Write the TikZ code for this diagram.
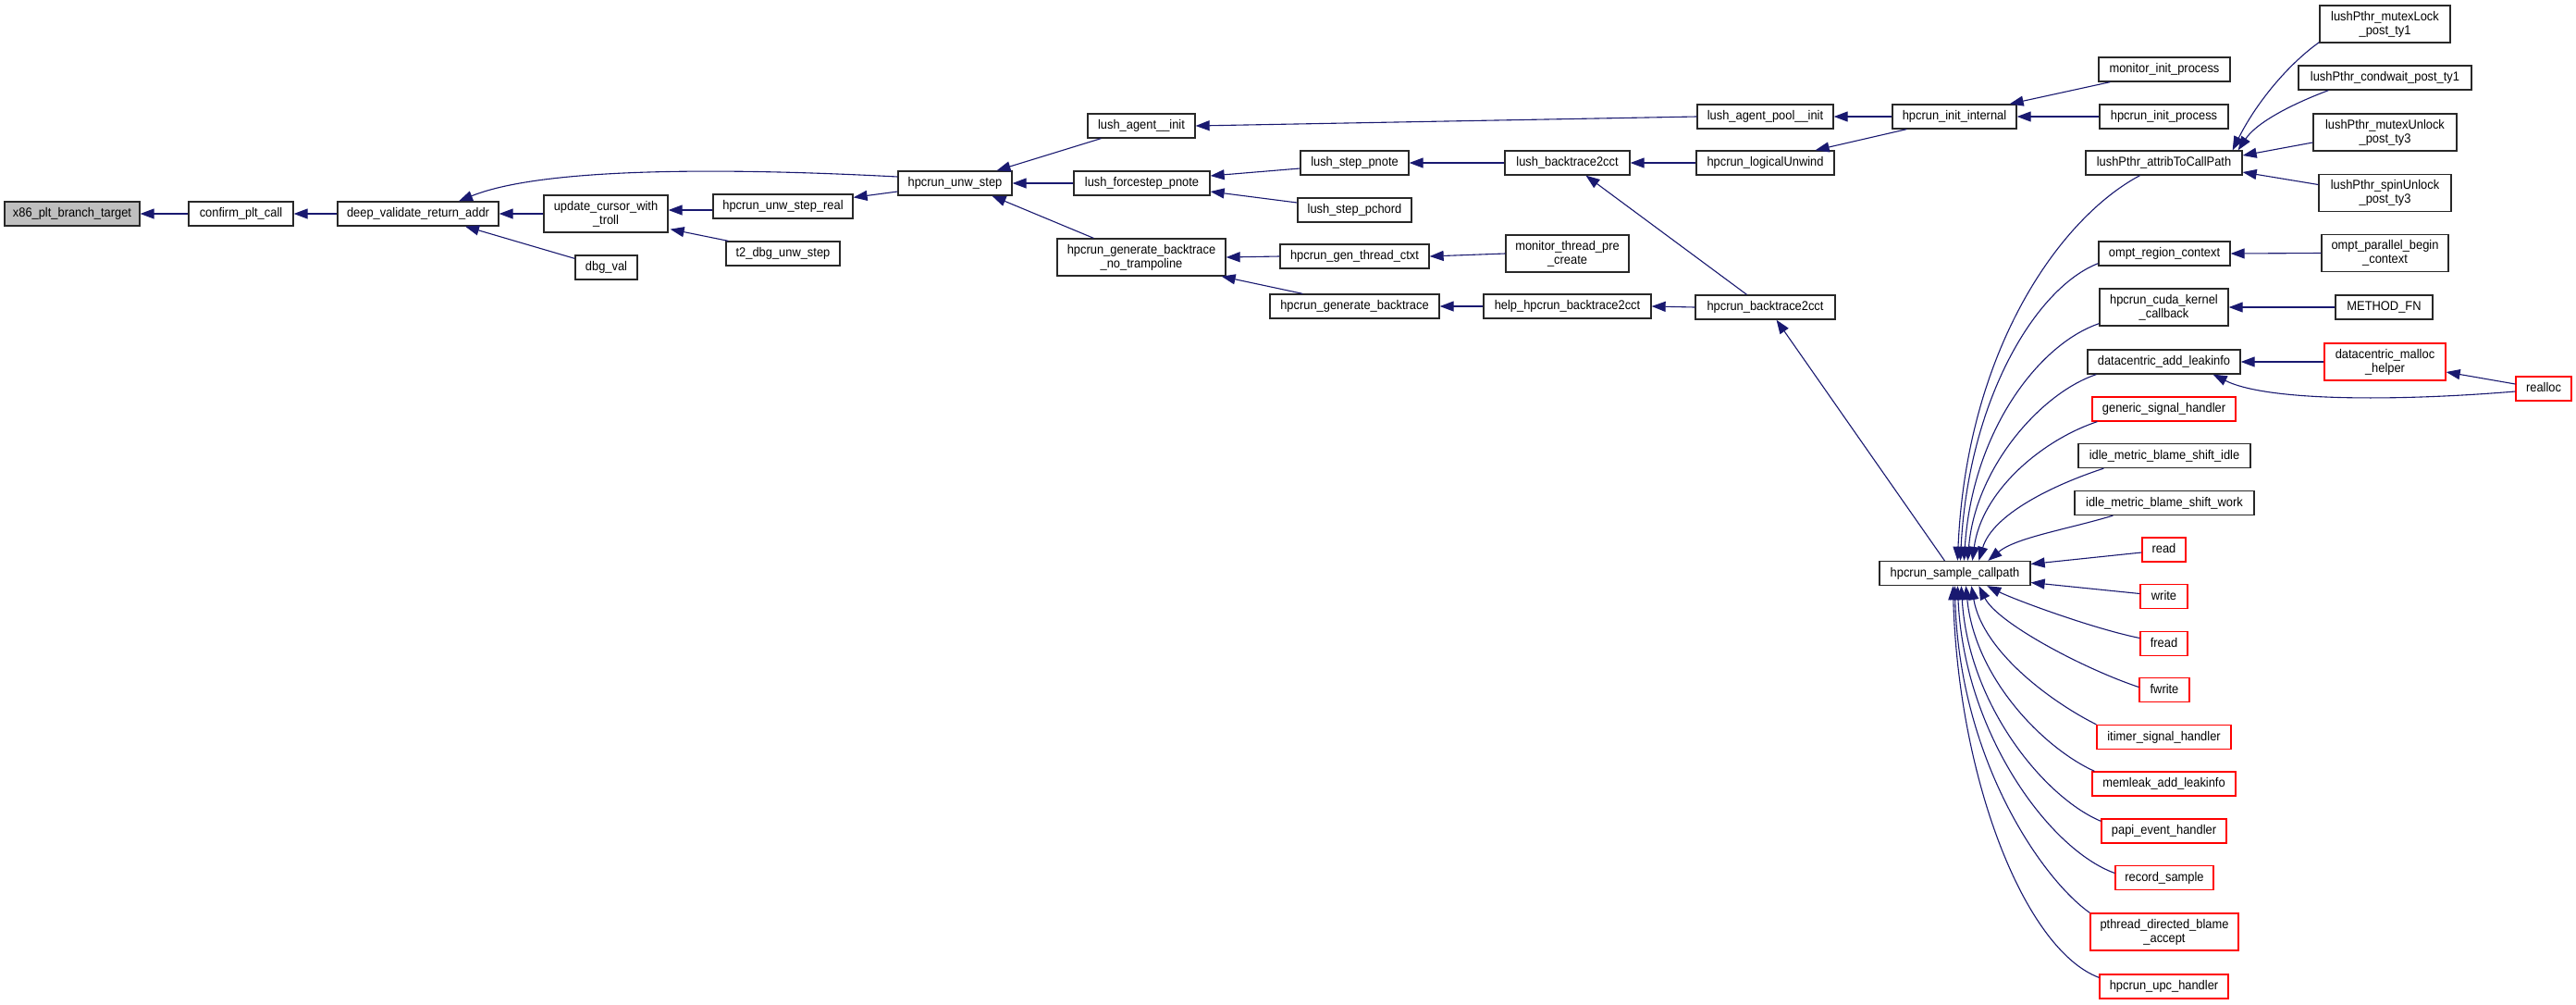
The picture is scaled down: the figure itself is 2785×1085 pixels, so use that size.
\documentclass[tikz,border=0pt]{standalone}
\usepackage{fontspec}
\newfontfamily\fnfont{Liberation Sans}[FakeStretch=0.92]
\usetikzlibrary{arrows.meta,calc}
\definecolor{edgec}{RGB}{25,25,112}
\definecolor{boxc}{RGB}{40,40,40}
\definecolor{redc}{RGB}{255,0,0}
\definecolor{grayfill}{RGB}{191,191,191}
\begin{document}
\begin{tikzpicture}[x=1pt,y=-1pt,
  fn/.style={draw=boxc, line width=1.3pt, fill=white, inner sep=0pt,
    font=\fnfont\fontsize{14}{15}\selectfont, align=center, minimum height=26pt},
  l1/.style={text height=10pt, text depth=3pt},
  l2/.style={minimum height=40pt},
  w/.style={minimum width=#1pt},
  redbox/.style={draw=redc},
  cn/.style={draw=edgec, line width=1.1pt, arrows={Triangle[length=15pt,width=11pt]-}}]
\fill[white] (0,0) rectangle (2785,1085);
\useasboundingbox (0,0) rectangle (2785,1085);

\node[fn,l1,w=146,fill=grayfill] (x86) at (78,231) {x86\_plt\_branch\_target};
\node[fn,l1,w=113] (cpc) at (260.5,231) {confirm\_plt\_call};
\node[fn,l1,w=174] (dvr) at (452,231) {deep\_validate\_return\_addr};
\node[fn,l2,w=134] (uct) at (655,231) {update\_cursor\_with\\\_troll};
\node[fn,l1,w=67] (dbg) at (655.5,289) {dbg\_val};
\node[fn,l1,w=151] (usr) at (846.5,223) {hpcrun\_unw\_step\_real};
\node[fn,l1,w=123] (t2d) at (846.5,274) {t2\_dbg\_unw\_step};
\node[fn,l1,w=123] (hus) at (1032.5,198) {hpcrun\_unw\_step};
\node[fn,l1,w=116] (lai) at (1234,136) {lush\_agent\_\_init};
\node[fn,l1,w=147] (lfp) at (1234.5,198) {lush\_forcestep\_pnote};
\node[fn,l2,w=182] (gbn) at (1234,278) {hpcrun\_generate\_backtrace\\\_no\_trampoline};
\node[fn,l1,w=117] (lsp) at (1464.5,176) {lush\_step\_pnote};
\node[fn,l1,w=123] (lsc) at (1464.5,227) {lush\_step\_pchord};
\node[fn,l1,w=161] (gtc) at (1464.5,277) {hpcrun\_gen\_thread\_ctxt};
\node[fn,l1,w=183] (gbt) at (1464.5,331) {hpcrun\_generate\_backtrace};
\node[fn,l1,w=135] (lbc) at (1694.5,176) {lush\_backtrace2cct};
\node[fn,l2,w=133] (mtp) at (1694.5,274) {monitor\_thread\_pre\\\_create};
\node[fn,l1,w=181] (hbc) at (1694.5,331) {help\_hpcrun\_backtrace2cct};
\node[fn,l1,w=147] (lap) at (1908.5,126) {lush\_agent\_pool\_\_init};
\node[fn,l1,w=149] (hlu) at (1908.5,176) {hpcrun\_logicalUnwind};
\node[fn,l1,w=151] (hbt) at (1908.5,332) {hpcrun\_backtrace2cct};
\node[fn,l1,w=134] (hii) at (2113,126) {hpcrun\_init\_internal};
\node[fn,l1,w=163] (hsc) at (2113.5,619.5) {hpcrun\_sample\_callpath};
\node[fn,l1,w=142] (mip) at (2340,75) {monitor\_init\_process};
\node[fn,l1,w=139] (hip) at (2339.5,126) {hpcrun\_init\_process};
\node[fn,l1,w=169] (lpa) at (2339.5,176) {lushPthr\_attribToCallPath};
\node[fn,l1,w=142] (orc) at (2340,274) {ompt\_region\_context};
\node[fn,l2,w=139] (cuda) at (2339.5,332) {hpcrun\_cuda\_kernel\\\_callback};
\node[fn,l1,w=165] (dal) at (2339.5,391) {datacentric\_add\_leakinfo};
\node[fn,l1,w=155,redbox] (gsh) at (2339.5,442) {generic\_signal\_handler};
\node[fn,l1,w=186] (mbi) at (2340,492.5) {idle\_metric\_blame\_shift\_idle};
\node[fn,l1,w=194] (mbw) at (2340,543.5) {idle\_metric\_blame\_shift\_work};
\node[fn,l1,w=47,redbox] (rd) at (2339.5,594) {read};
\node[fn,l1,w=51,redbox] (wr) at (2339.5,644.5) {write};
\node[fn,l1,w=51,redbox] (frd) at (2339.5,695.5) {fread};
\node[fn,l1,w=54,redbox] (fwr) at (2340,745.5) {fwrite};
\node[fn,l1,w=145,redbox] (its) at (2339.5,796.5) {itimer\_signal\_handler};
\node[fn,l1,w=155,redbox] (mal) at (2339.5,847) {memleak\_add\_leakinfo};
\node[fn,l1,w=135,redbox] (peh) at (2339.5,898) {papi\_event\_handler};
\node[fn,l1,w=106,redbox] (rcs) at (2340,948.5) {record\_sample};
\node[fn,l2,w=160,redbox] (pdb) at (2340,1007) {pthread\_directed\_blame\\\_accept};
\node[fn,l1,w=139,redbox] (upc) at (2339.5,1066) {hpcrun\_upc\_handler};
\node[fn,l2,w=141] (mlk) at (2578.5,26) {lushPthr\_mutexLock\\\_post\_ty1};
\node[fn,l1,w=187] (cwt) at (2578.5,84) {lushPthr\_condwait\_post\_ty1};
\node[fn,l2,w=155] (mul) at (2578.5,143) {lushPthr\_mutexUnlock\\\_post\_ty3};
\node[fn,l2,w=143] (spu) at (2578.5,208.5) {lushPthr\_spinUnlock\\\_post\_ty3};
\node[fn,l2,w=137] (opb) at (2578.5,273.5) {ompt\_parallel\_begin\\\_context};
\node[fn,l1,w=105] (mfn) at (2577.5,332) {METHOD\_FN};
\node[fn,l2,w=131,redbox] (dmh) at (2578.5,391) {datacentric\_malloc\\\_helper};
\node[fn,l1,w=60,redbox] (rea) at (2750,420) {realloc};

\draw[cn] (x86.east) -- (cpc.west);
\draw[cn] (cpc.east) -- (dvr.west);
\draw[cn] (dvr.east) -- (uct.west);
\draw[cn] ($(dvr.south)+(51,0)$) -- ($(dbg.north west)+(0,4)$);
\draw[cn] ($(dvr.north)+(44,0)$) .. controls +(94,-38) and +(-171,-9) .. ($(hus.west)+(0,-7)$);
\draw[cn] ($(uct.east)+(0,-4)$) -- ($(usr.west)+(0,4)$);
\draw[cn] ($(uct.south east)+(2,-4)$) -- ($(t2d.north west)+(3,0)$);
\draw[cn] ($(usr.north east)+(0,4)$) -- ($(hus.west)+(0,9)$);
\draw[cn] ($(hus.north)+(45,0)$) -- ($(lai.south west)+(15,0)$);
\draw[cn] (hus.east) -- (lfp.west);
\draw[cn] ($(hus.south)+(40,0)$) -- ($(gbn.north west)+(40,0)$);
\draw[cn] (lai.east) -- (lap.west);
\draw[cn] ($(lfp.east)+(0,-8)$) -- ($(lsp.west)+(0,6)$);
\draw[cn] ($(lfp.east)+(0,9)$) -- ($(lsc.west)+(0,-8)$);
\draw[cn] (gbn.east) -- (gtc.west);
\draw[cn] ($(gbn.south east)+(-5,0)$) -- ($(gbt.north west)+(36,0)$);
\draw[cn] (lsp.east) -- (lbc.west);
\draw[cn] (gtc.east) -- (mtp.west);
\draw[cn] (gbt.east) -- (hbc.west);
\draw[cn] (lbc.east) -- (hlu.west);
\draw[cn] ($(lbc.south)+(20,0)$) -- ($(hbt.north)+(-20,0)$);
\draw[cn] (hbc.east) -- (hbt.west);
\draw[cn] (lap.east) -- (hii.west);
\draw[cn] ($(hlu.north east)+(-21,0)$) -- ($(hii.south west)+(16,0)$);
\draw[cn] ($(hii.north east)+(-8,0)$) -- ($(mip.south west)+(13,0)$);
\draw[cn] (hii.east) -- (hip.west);
\draw[cn] ($(hbt.south)+(12,0)$) -- ($(hsc.north west)+(71,0)$);

\draw[cn] ($(hsc.north west)+(85,0)$) .. controls +(10,-230) and +(-85,45) .. ($(lpa.south)+(-26,0)$);
\draw[cn] ($(hsc.north west)+(88,0)$) .. controls +(9,-175) and +(-67,26) .. ($(orc.south west)+(0,-3)$);
\draw[cn] ($(hsc.north west)+(92,0)$) .. controls +(9,-140) and +(-65,22) .. ($(cuda.south west)+(0,-3)$);
\draw[cn] ($(hsc.north west)+(96,0)$) .. controls +(8,-100) and +(-60,20) .. ($(dal.south west)+(10,0)$);
\draw[cn] ($(hsc.north west)+(101,0)$) .. controls +(10,-75) and +(-60,20) .. ($(gsh.south west)+(6,0)$);
\draw[cn] ($(hsc.north west)+(108,0)$) .. controls +(15,-50) and +(-55,18) .. ($(mbi.south west)+(28,0)$);
\draw[cn] ($(hsc.north west)+(118,0)$) .. controls +(30,-25) and +(-50,15) .. ($(mbw.south west)+(42,0)$);
\draw[cn] ($(hsc.east)+(0,-10)$) -- ($(rd.west)+(0,3)$);
\draw[cn] ($(hsc.east)+(0,10)$) -- ($(wr.west)+(0,-3)$);

\draw[cn] ($(hsc.south west)+(117,0)$) .. controls +(30,15) and +(-50,-10) .. ($(frd.west)+(0,-6)$);
\draw[cn] ($(hsc.south west)+(108,0)$) .. controls +(20,40) and +(-60,-20) .. ($(fwr.west)+(0,-3)$);
\draw[cn] ($(hsc.south west)+(100,0)$) .. controls +(12,70) and +(-50,-25) .. (its.north west);
\draw[cn] ($(hsc.south west)+(94,0)$) .. controls +(10,100) and +(-55,-25) .. ($(mal.north west)+(3,0)$);
\draw[cn] ($(hsc.south west)+(89,0)$) .. controls +(8,130) and +(-60,-25) .. ($(peh.north west)+(0,3)$);
\draw[cn] ($(hsc.south west)+(85,0)$) .. controls +(7,160) and +(-70,-25) .. ($(rcs.west)+(0,-5)$);
\draw[cn] ($(hsc.south west)+(82,0)$) .. controls +(5,190) and +(-50,-35) .. (pdb.north west);
\draw[cn] ($(hsc.south west)+(80,0)$) .. controls +(6,210) and +(-80,-30) .. ($(upc.north west)+(0,4)$);

\draw[cn] ($(lpa.north east)+(-11,0)$) .. controls +(25,-50) and +(-35,25) .. ($(mlk.south west)+(0,-1)$);
\draw[cn] ($(lpa.north east)+(-5,0)$) .. controls +(20,-30) and +(-40,15) .. ($(cwt.south west)+(33,0)$);
\draw[cn] ($(lpa.east)+(0,-8)$) -- ($(mul.west)+(0,11)$);
\draw[cn] ($(lpa.east)+(0,10)$) -- ($(spu.west)+(0,-9)$);
\draw[cn] (orc.east) -- (opb.west);
\draw[cn] (cuda.east) -- (mfn.west);
\draw[cn] (dal.east) -- (dmh.west);
\draw[cn] ($(dmh.east)+(0,11)$) -- ($(rea.west)+(0,-5)$);
\draw[cn] ($(dal.south east)+(-30,0)$) .. controls +(60,30) and +(-120,10) .. ($(rea.west)+(0,3)$);
\end{tikzpicture}
\end{document}
